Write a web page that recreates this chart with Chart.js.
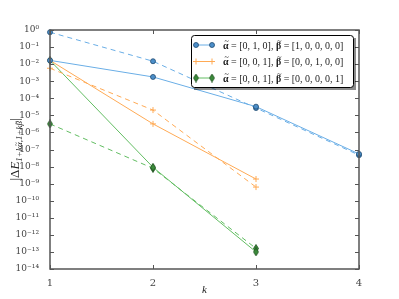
<!DOCTYPE html>
<html>
<head>
<meta charset="utf-8">
<script src="https://cdn.jsdelivr.net/npm/chart.js@4.4.0/dist/chart.umd.min.js"></script>
<style>
html, body { margin: 0; padding: 0; background: #fff; }
#wrap { width: 399px; height: 299px; }
</style>
</head>
<body>
<div id="wrap"><canvas id="chart" width="399" height="299"></canvas></div>
<script>
const kValues = [1, 2, 3, 4];
const blueSolid = [0.0166, 1.78e-3, 3.24e-5, 5.5e-8];
const blueDashed = [0.741, 0.0148, 2.69e-5, 4.68e-8];
const orangeSolid = [0.0166, 3.16e-6, 1.86e-9];
const orangeDashed = [5.75e-3, 2.04e-5, 6.3e-10];
const greenSolid = [0.0166, 9.1e-9, 1.0e-13];
const greenDashed = [3.16e-6, 7.9e-9, 1.6e-13];
const legendLabels = [
    ['[0, 1, 0]', '[1, 0, 0, 0, 0]'],
    ['[0, 0, 1]', '[0, 0, 1, 0, 0]'],
    ['[0, 0, 1]', '[0, 0, 0, 0, 1]']
];

const BLUE = '#6aaee6', ORANGE = '#ffaa55', GREEN = '#62bd62';
const FRAME = '#555555';
const SERIF = '"Liberation Serif", "DejaVu Serif", serif';
const TICKFONT = '"DejaVu Serif", serif';

function pts(values) {
    return values.map((v, i) => ({ x: kValues[i], y: v }));
}

// thin diamond marker like matplotlib 'd'
function thinDiamond() {
    const c = document.createElement('canvas');
    c.width = 6; c.height = 9;
    const g = c.getContext('2d');
    g.beginPath();
    g.moveTo(3, 0.5); g.lineTo(5.5, 4.5); g.lineTo(3, 8.5); g.lineTo(0.5, 4.5); g.closePath();
    g.fillStyle = '#3a8a3a';
    g.fill();
    g.strokeStyle = '#1d4d1d';
    g.lineWidth = 0.8;
    g.stroke();
    return c;
}
const DIAMOND = thinDiamond();

const sup = { '0': '⁰', '1': '¹', '2': '²', '3': '³', '4': '⁴', '5': '⁵', '6': '⁶', '7': '⁷', '8': '⁸', '9': '⁹', '-': '⁻' };
function powLabel(v) {
    const e = Math.round(Math.log10(v));
    return '10' + String(e).split('').map(c => sup[c]).join('');
}

function series(data, color, dashed, style, markerFill, markerEdge) {
    return {
        data: pts(data),
        borderColor: color,
        borderWidth: 1,
        borderDash: dashed ? [5, 4] : [],
        pointStyle: style,
        pointRadius: style === 'cross' ? 3 : 2.5,
        pointBackgroundColor: markerFill,
        pointBorderColor: markerEdge,
        pointBorderWidth: style === 'cross' ? 1 : 0.8,
        tension: 0,
        clip: false
    };
}

const datasets = [
    series(blueSolid, BLUE, false, 'circle', '#4c8fca', '#1f4a70'),
    series(blueDashed, BLUE, true, 'circle', '#4c8fca', '#1f4a70'),
    series(orangeSolid, ORANGE, false, 'cross', ORANGE, ORANGE),
    series(orangeDashed, ORANGE, true, 'cross', ORANGE, ORANGE),
    series(greenSolid, GREEN, false, DIAMOND, '#3a8a3a', '#1d4d1d'),
    series(greenDashed, GREEN, true, DIAMOND, '#3a8a3a', '#1d4d1d')
];

// text piece with a tilde drawn over the letter
function tildeText(ctx, txt, x, y, font, size) {
    ctx.font = font;
    ctx.fillText(txt, x, y);
    const w = ctx.measureText(txt).width;
    ctx.font = Math.round(size * 0.8) + 'px ' + SERIF;
    const tw = ctx.measureText('~').width;
    ctx.fillText('~', x + (w - tw) / 2 + size * 0.08, y - size * 0.5);
    return w;
}

const decorations = {
    id: 'decorations',
    afterDraw(chart) {
        const ctx = chart.ctx;
        const a = chart.chartArea;
        const xs = chart.scales.x, ys = chart.scales.y;
        ctx.save();
        ctx.strokeStyle = FRAME;
        ctx.lineWidth = 1;
        for (let e = 0; e >= -14; e--) {
            const y = Math.round(ys.getPixelForValue(Math.pow(10, e))) + 0.5;
            ctx.beginPath();
            ctx.moveTo(a.left, y); ctx.lineTo(a.left + 4, y);
            ctx.moveTo(a.right, y); ctx.lineTo(a.right - 4, y);
            ctx.stroke();
        }
        kValues.forEach(k => {
            const x = Math.round(xs.getPixelForValue(k)) + 0.5;
            ctx.beginPath();
            ctx.moveTo(x, a.bottom); ctx.lineTo(x, a.bottom - 4);
            ctx.moveTo(x, a.top); ctx.lineTo(x, a.top + 4);
            ctx.stroke();
        });
        ctx.lineWidth = 1.5;
        ctx.strokeRect(a.left, a.top, a.right - a.left, a.bottom - a.top);

        // y axis title
        ctx.fillStyle = '#222';
        ctx.translate(15, (a.top + a.bottom) / 2);
        ctx.rotate(-Math.PI / 2);
        ctx.textBaseline = 'alphabetic';
        const big = '13px ' + SERIF, bigI = 'italic 13px ' + SERIF, small = 'italic 9px ' + SERIF;
        const pieces = [
            [big, '|Δ', 0, false], [bigI, 'E', 0, false],
            [small, '1+k', 3, false], [small, 'α', 3, true], [small, ',1+k', 3, false], [small, 'β', 3, true],
            [big, '|', 0, false]
        ];
        let total = 0;
        pieces.forEach(p => { ctx.font = p[0]; total += ctx.measureText(p[1]).width; });
        let x0 = -total / 2;
        pieces.forEach(p => {
            if (p[3]) {
                x0 += tildeText(ctx, p[1], x0, 4 + p[2], p[0], 9);
            } else {
                ctx.font = p[0];
                ctx.fillText(p[1], x0, 4 + p[2]);
                x0 += ctx.measureText(p[1]).width;
            }
        });
        ctx.setTransform(1, 0, 0, 1, 0, 0);

        // legend
        const bx = 191, by = 35, bw = 162, bh = 52;
        ctx.fillStyle = 'rgba(0,0,0,0.45)';
        ctx.fillRect(bx + 3, by + 3, bw, bh);
        ctx.fillStyle = '#fff';
        ctx.strokeStyle = '#000';
        ctx.lineWidth = 1;
        ctx.beginPath();
        ctx.roundRect(bx + 0.5, by + 0.5, bw, bh, 3);
        ctx.fill();
        ctx.stroke();
        const rows = [
            [BLUE, 'circle', '#4c8fca', '#1f4a70'],
            [ORANGE, 'cross', ORANGE, ORANGE],
            [GREEN, DIAMOND, '#3a8a3a', '#1d4d1d']
        ];
        rows.forEach((r, i) => {
            const y = by + 10 + i * 16.5;
            ctx.strokeStyle = r[0];
            ctx.lineWidth = 1;
            ctx.beginPath();
            ctx.moveTo(196, y); ctx.lineTo(212, y);
            ctx.stroke();
            [196, 212].forEach(px => {
                ctx.fillStyle = r[2];
                ctx.strokeStyle = r[3];
                ctx.lineWidth = r[1] === 'cross' ? 1 : 0.8;
                Chart.helpers.drawPoint(ctx, { pointStyle: r[1], radius: r[1] === 'cross' ? 3 : 2.5, borderWidth: 1 }, px, y);
            });
            ctx.fillStyle = '#222';
            ctx.textBaseline = 'alphabetic';
            const yb = y + 3.5;
            let tx = 223;
            tx += tildeText(ctx, 'α', tx, yb, 'bold 10px ' + SERIF, 10);
            ctx.font = '10px ' + SERIF;
            let s = ' = ' + legendLabels[i][0] + ', ';
            ctx.fillText(s, tx, yb);
            tx += ctx.measureText(s).width;
            tx += tildeText(ctx, 'β', tx, yb, 'bold 10px ' + SERIF, 10);
            ctx.font = '10px ' + SERIF;
            ctx.fillText(' = ' + legendLabels[i][1], tx, yb);
        });
        ctx.restore();
    }
};

new Chart(document.getElementById('chart'), {
    type: 'line',
    data: { datasets: datasets },
    options: {
        responsive: false,
        animation: false,
        layout: { padding: { left: 0, right: 40, top: 30, bottom: 0 } },
        plugins: { legend: { display: false }, tooltip: { enabled: false } },
        scales: {
            x: {
                type: 'linear',
                min: 1,
                max: 4,
                grid: { display: false },
                border: { display: false },
                ticks: {
                    stepSize: 1,
                    padding: 0,
                    color: '#444',
                    font: { family: TICKFONT, size: 10 },
                    callback: v => String(v)
                },
                title: {
                    display: true,
                    text: 'k',
                    color: '#222',
                    padding: { top: 0, bottom: 2 },
                    font: { family: SERIF, size: 11, style: 'italic' }
                },
                afterFit(scale) { scale.height = 30; }
            },
            y: {
                type: 'logarithmic',
                min: 1e-14,
                max: 1,
                grid: { display: false },
                border: { display: false },
                afterBuildTicks(scale) {
                    const t = [];
                    for (let e = 0; e >= -14; e--) t.push({ value: Math.pow(10, e) });
                    scale.ticks = t;
                },
                ticks: {
                    padding: 3,
                    color: '#444',
                    font: { family: TICKFONT, size: 9 },
                    callback: v => powLabel(v)
                },
                afterFit(scale) { scale.width = 50; }
            }
        }
    },
    plugins: [decorations]
});
</script>
</body>
</html>
